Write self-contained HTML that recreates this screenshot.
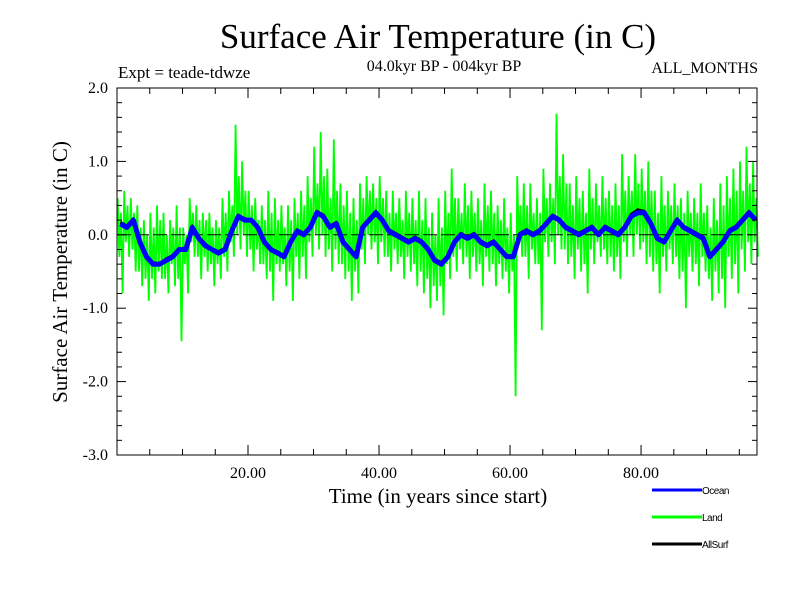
<!DOCTYPE html>
<html><head><meta charset="utf-8"><style>
body{margin:0;background:#fff}
svg text{font-family:"Liberation Serif",serif}
svg text.sans{font-family:"Liberation Sans",sans-serif}
</style></head><body>
<svg id="chart" width="800" height="600" xmlns="http://www.w3.org/2000/svg">
<rect width="800" height="600" fill="#fff"/>
<text x="438" y="48" font-size="35" text-anchor="middle">Surface Air Temperature (in C)</text>
<text x="118" y="78" font-size="17">Expt = teade-tdwze</text>
<text x="444" y="71" font-size="16" text-anchor="middle">04.0kyr BP - 004kyr BP</text>
<text x="758" y="73" font-size="16" text-anchor="end">ALL_MONTHS</text>
<g id="plot"></g>
<rect x="117" y="88" width="640" height="367" fill="none" stroke="#000" stroke-width="1"/>
<g id="axes"></g>
<text x="438" y="503" font-size="21" text-anchor="middle">Time (in years since start)</text>
<text transform="translate(67,272) rotate(-90)" font-size="21" text-anchor="middle">Surface Air Temperature (in C)</text>
<g>
<line x1="652" y1="490" x2="702" y2="490" stroke="#0000ff" stroke-width="3"/>
<text class="sans" x="702" y="494" font-size="10" letter-spacing="-0.5">Ocean</text>
<line x1="652" y1="517" x2="702" y2="517" stroke="#00ff00" stroke-width="3"/>
<text class="sans" x="702" y="521" font-size="10" letter-spacing="-0.5">Land</text>
<line x1="652" y1="544" x2="702" y2="544" stroke="#000" stroke-width="3"/>
<text class="sans" x="702" y="548" font-size="10" letter-spacing="-0.5">AllSurf</text>
</g>
</svg>
<script>
const yTicks=[2.0,1.0,0.0,-1.0,-2.0,-3.0];
const yTickLabels=["2.0","1.0","0.0","-1.0","-2.0","-3.0"];
const xTicks=[20,40,60,80];
const xTickLabels=["20.00","40.00","60.00","80.00"];
const landHi=[0.5,0.6,0.5,0.4,0.2,0.3,0.4,0.3,0.2,0.4,0.1,0.5,0.4,0.3,0.3,0.2,0.5,0.6,1.5,1.0,0.6,0.5,0.4,0.6,0.5,0.4,0.4,0.5,0.6,0.8,1.2,1.4,0.9,1.3,0.7,0.6,0.5,0.7,0.8,0.7,0.8,0.6,0.6,0.5,0.6,0.5,0.6,0.5,0.3,0.5,0.6,0.9,0.5,0.7,0.6,0.5,0.7,0.6,0.4,0.5,0.3,0.8,0.7,0.7,0.5,0.9,0.7,1.65,1.1,0.7,0.8,0.6,0.9,0.7,0.8,0.6,0.7,1.1,0.8,1.1,0.9,1.0,0.6,0.8,0.6,0.7,0.5,0.6,0.5,0.7,0.4,0.5,0.7,0.8,0.9,1.0,1.2,1.0];
const landLo=[-0.8,-0.3,-0.5,-0.7,-0.9,-0.8,-0.6,-0.8,-0.7,-1.45,-0.8,-0.3,-0.6,-0.5,-0.7,-0.6,-0.5,-0.3,-0.2,-0.3,-0.5,-0.4,-0.6,-0.9,-0.5,-0.7,-0.9,-0.6,-0.6,-0.3,-0.2,-0.3,-0.5,-0.4,-0.6,-0.9,-0.8,-0.4,-0.2,-0.4,-0.3,-0.5,-0.4,-0.6,-0.5,-0.7,-0.8,-1.0,-0.9,-1.1,-0.6,-0.5,-0.4,-0.6,-0.5,-0.7,-0.5,-0.7,-0.6,-0.8,-2.2,-0.3,-0.6,-0.4,-1.3,-0.3,-0.4,-0.2,-0.4,-0.6,-0.5,-0.8,-0.4,-0.3,-0.4,-0.5,-0.6,-0.3,-0.3,-0.2,-0.4,-0.5,-0.8,-0.5,-0.4,-0.6,-1.0,-0.5,-0.7,-0.5,-0.9,-0.8,-1.0,-0.6,-0.8,-0.5,-0.4,-0.3];
const landMidHi=[0.3,0.4,0.3,0.1,0.0,0.1,0.2,0.0,0.1,0.1,0.0,0.3,0.2,0.2,0.1,0.1,0.3,0.4,0.8,0.6,0.4,0.2,0.2,0.3,0.2,0.1,0.2,0.3,0.4,0.5,0.7,0.8,0.5,0.6,0.4,0.3,0.2,0.5,0.6,0.5,0.5,0.3,0.3,0.2,0.3,0.2,0.2,0.1,0.0,0.1,0.3,0.5,0.3,0.4,0.3,0.2,0.4,0.3,0.2,0.1,0.0,0.4,0.4,0.3,0.3,0.5,0.5,0.8,0.7,0.4,0.5,0.3,0.5,0.4,0.5,0.4,0.4,0.6,0.6,0.7,0.6,0.6,0.3,0.4,0.4,0.4,0.3,0.3,0.3,0.3,0.1,0.2,0.4,0.5,0.6,0.6,0.7,0.5];
const landMidLo=[-0.3,-0.1,-0.2,-0.5,-0.6,-0.6,-0.5,-0.6,-0.4,-0.6,-0.4,-0.1,-0.3,-0.3,-0.4,-0.4,-0.3,-0.1,0.0,0.0,-0.2,-0.2,-0.4,-0.5,-0.4,-0.4,-0.5,-0.3,-0.3,-0.1,0.0,0.0,-0.2,-0.2,-0.4,-0.5,-0.5,-0.2,0.0,-0.1,-0.1,-0.3,-0.2,-0.3,-0.3,-0.4,-0.5,-0.6,-0.7,-0.7,-0.4,-0.3,-0.2,-0.3,-0.3,-0.4,-0.3,-0.4,-0.4,-0.5,-0.5,-0.1,-0.3,-0.2,-0.4,-0.1,-0.1,0.0,-0.2,-0.3,-0.2,-0.4,-0.2,-0.1,-0.2,-0.3,-0.3,-0.1,0.0,0.0,-0.1,-0.3,-0.4,-0.3,-0.2,-0.3,-0.5,-0.3,-0.4,-0.3,-0.6,-0.5,-0.6,-0.3,-0.4,-0.2,-0.1,-0.1];
const ocean=[0.15,0.1,0.2,-0.1,-0.3,-0.4,-0.4,-0.35,-0.3,-0.2,-0.2,0.1,-0.05,-0.15,-0.2,-0.25,-0.2,0.05,0.25,0.2,0.2,0.1,-0.1,-0.2,-0.25,-0.3,-0.1,0.05,0.0,0.1,0.3,0.25,0.1,0.15,-0.1,-0.2,-0.3,0.1,0.2,0.3,0.2,0.05,0.0,-0.05,-0.1,-0.05,-0.1,-0.2,-0.35,-0.4,-0.3,-0.1,0.0,-0.05,0.0,-0.1,-0.15,-0.1,-0.2,-0.3,-0.3,0.0,0.05,0.0,0.05,0.15,0.25,0.2,0.1,0.05,0.0,0.05,0.1,0.0,0.1,0.05,0.0,0.1,0.25,0.3,0.3,0.15,-0.05,-0.1,0.05,0.2,0.1,0.05,0.0,-0.05,-0.3,-0.2,-0.1,0.05,0.1,0.2,0.3,0.2];
const allSurf=[0.17,0.12,0.22,-0.08,-0.28,-0.38,-0.39,-0.33,-0.28,-0.19,-0.18,0.12,-0.03,-0.13,-0.19,-0.23,-0.18,0.07,0.27,0.22,0.2,0.1,-0.08,-0.19,-0.23,-0.28,-0.08,0.07,0.02,0.12,0.32,0.27,0.12,0.17,-0.08,-0.18,-0.28,0.12,0.22,0.32,0.22,0.07,0.02,-0.03,-0.08,-0.03,-0.08,-0.18,-0.33,-0.38,-0.28,-0.08,0.02,-0.03,0.02,-0.08,-0.13,-0.08,-0.18,-0.28,-0.29,0.02,0.07,0.02,0.07,0.17,0.27,0.22,0.12,0.07,0.02,0.07,0.12,0.02,0.12,0.07,0.02,0.12,0.28,0.34,0.32,0.17,-0.03,-0.08,0.07,0.22,0.12,0.07,0.02,-0.03,-0.28,-0.18,-0.08,0.07,0.12,0.22,0.32,0.2];
const NS='http://www.w3.org/2000/svg';
const X0=117,X1=757,Y0=88,Y1=455,XMAX=97.7;
function xs(v){return X0+(v/XMAX)*(X1-X0);}
function ys(v){return Y1-(v+3)/5*(Y1-Y0);}
const plot=document.getElementById('plot');
const axes=document.getElementById('axes');
function mk(tag,attrs,parent){const e=document.createElementNS(NS,tag);for(const k in attrs)e.setAttribute(k,attrs[k]);parent.appendChild(e);return e;}
let d='';
for(let i=0;i<landHi.length;i++){
  d+=(i?'L':'M')+xs(i+0.1).toFixed(1)+','+ys(landHi[i]).toFixed(1);
  d+='L'+xs(i+0.35).toFixed(1)+','+ys(landMidLo[i]).toFixed(1);
  d+='L'+xs(i+0.6).toFixed(1)+','+ys(landMidHi[i]).toFixed(1);
  d+='L'+xs(i+0.85).toFixed(1)+','+ys(landLo[i]).toFixed(1);
}
const land=mk('path',{d:d,fill:'none',stroke:'#00ff00','stroke-width':1.8},plot);


const zero=mk('line',{x1:X0,x2:X1,y1:ys(0),y2:ys(0),stroke:'#000','stroke-width':1,'stroke-dasharray':'14,4'},plot);


function line(arr,color,w){let p='';arr.forEach((v,i)=>{p+=(i?'L':'M')+xs(i+0.5).toFixed(1)+','+ys(v).toFixed(1);});return mk('path',{d:p,fill:'none',stroke:color,'stroke-width':w,'stroke-linejoin':'round'},plot);}
const al=line(allSurf,'#000',3);


const oc=line(ocean,'#0000ff',5);


for(let v=-3;v<=2.001;v+=0.2){
  const major=Math.abs(v-Math.round(v))<0.01;const L=major?9:5;
  mk('line',{x1:X0,x2:X0+L,y1:ys(v),y2:ys(v),stroke:'#000'},axes);
  mk('line',{x1:X1,x2:X1-L,y1:ys(v),y2:ys(v),stroke:'#000'},axes);
}
yTicks.forEach((v,i)=>{const t=mk('text',{x:108,y:ys(v)+5,'font-size':16,'text-anchor':'end'},axes);t.textContent=yTickLabels[i];

});
for(let v=5;v<XMAX;v+=5){
  const major=v%20===0;const L=major?10:6;
  mk('line',{x1:xs(v),x2:xs(v),y1:Y1,y2:Y1-L,stroke:'#000'},axes);
  mk('line',{x1:xs(v),x2:xs(v),y1:Y0,y2:Y0+L,stroke:'#000'},axes);
}
xTicks.forEach((v,i)=>{const t=mk('text',{x:xs(v),y:478,'font-size':16,'text-anchor':'middle'},axes);t.textContent=xTickLabels[i];

});
</script>
</body></html>
